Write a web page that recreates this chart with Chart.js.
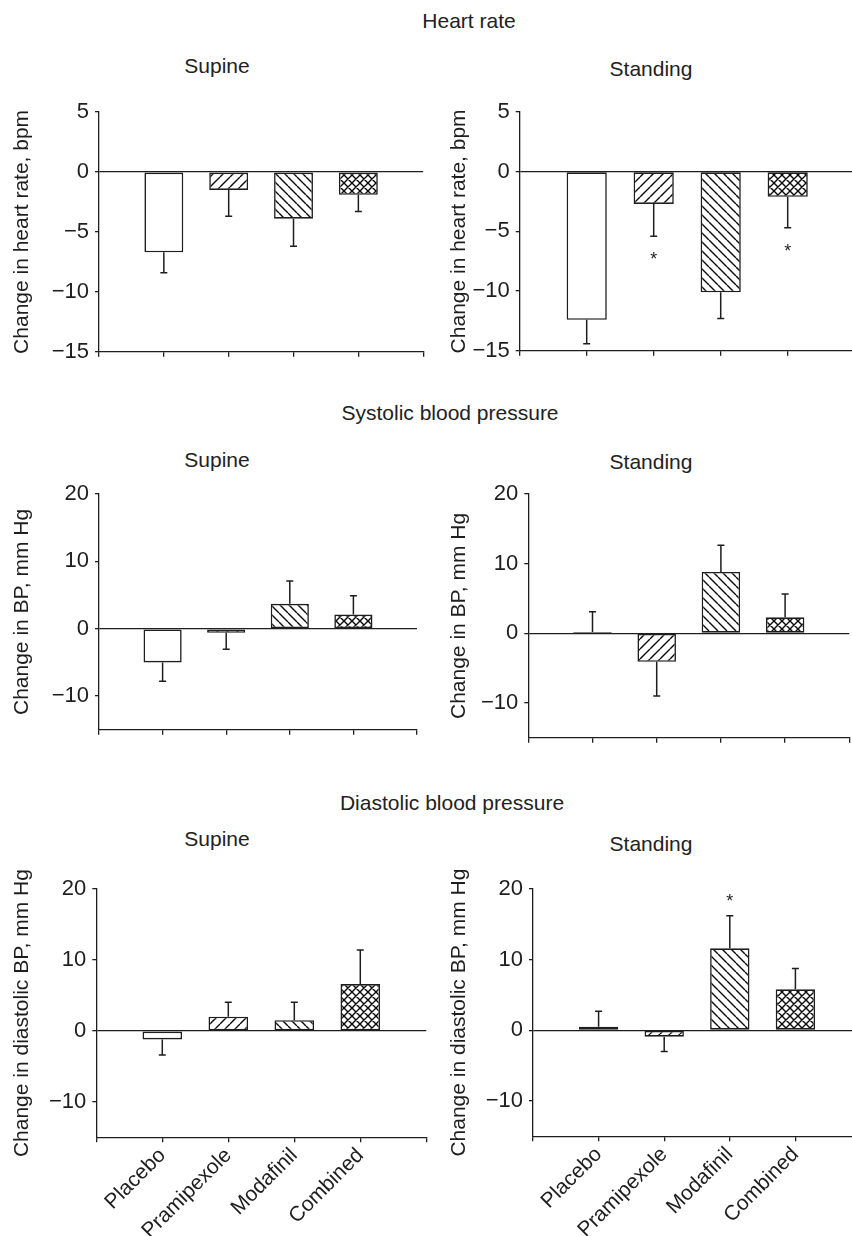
<!DOCTYPE html>
<html>
<head>
<meta charset="utf-8">
<script src="https://cdn.jsdelivr.net/npm/chart.js@4.4.1/dist/chart.umd.min.js"></script>
<style>
html, body { margin: 0; padding: 0; background: #fff; overflow: hidden; }
#fig { position: relative; width: 852px; height: 1236px; overflow: hidden; }
#fig canvas { position: absolute; }
.t { position: absolute; font: 21px 'Liberation Sans', Arial, sans-serif; color: #222;
     white-space: nowrap; line-height: 21px; transform: translateX(-50%); }
</style>
</head>
<body>
<div id="fig">
  <div class="t" style="left:469px;top:10px">Heart rate</div>
  <div class="t" style="left:217px;top:55px">Supine</div>
  <div class="t" style="left:651px;top:58px">Standing</div>

  <div class="t" style="left:450px;top:402px">Systolic blood pressure</div>
  <div class="t" style="left:217px;top:449px">Supine</div>
  <div class="t" style="left:651px;top:451px">Standing</div>

  <div class="t" style="left:452px;top:792px">Diastolic blood pressure</div>
  <div class="t" style="left:217px;top:828px">Supine</div>
  <div class="t" style="left:651px;top:833px">Standing</div>

  <canvas id="hrSup"></canvas>
  <canvas id="hrStand"></canvas>
  <canvas id="sbpSup"></canvas>
  <canvas id="sbpStand"></canvas>
  <canvas id="dbpSup"></canvas>
  <canvas id="dbpStand"></canvas>
</div>
<script>
const categories = ['Placebo', 'Pramipexole', 'Modafinil', 'Combined'];

// mean change, and SEM (drawn away from zero)
const hrSupine = [-6.7, -1.5, -3.9, -1.9];
const hrSupineSem = [1.7, 2.2, 2.3, 1.4];
const hrStanding = [-12.4, -2.7, -10.1, -2.1];
const hrStandingSem = [2.0, 2.7, 2.2, 2.6];
const hrStandingSig = [false, true, false, true];

const sbpSupine = [-5.0, -0.6, 3.7, 2.1];
const sbpSupineSem = [2.8, 2.45, 3.4, 2.8];
const sbpStanding = [0.2, -4.1, 8.8, 2.3];
const sbpStandingSem = [2.9, 4.9, 3.85, 3.35];

const dbpSupine = [-1.2, 2.0, 1.5, 6.6];
const dbpSupineSem = [2.2, 2.05, 2.55, 4.8];
const dbpStanding = [0.5, -0.9, 11.6, 5.8];
const dbpStandingSem = [2.2, 2.1, 4.6, 2.95];
const dbpStandingSig = [false, false, true, false];

const hrTicks = [-15, -10, -5, 0, 5];
const bpTicks = [-10, 0, 10, 20];

const INK = '#1e1e1e';
Chart.defaults.font.family = "'Liberation Sans', Arial, sans-serif";
Chart.defaults.color = INK;

// hatch fills
function hatch(kind, s) {
  const t = document.createElement('canvas');
  t.width = s; t.height = s;
  const c = t.getContext('2d');
  c.fillStyle = '#fff';
  c.fillRect(0, 0, s, s);
  c.strokeStyle = '#0a0a0a';
  c.lineWidth = 1.4;
  c.beginPath();
  for (const k of [-s, 0, s]) {
    if (kind === 'fwd' || kind === 'cross') { c.moveTo(k, s); c.lineTo(k + s, 0); }
    if (kind === 'back' || kind === 'cross') { c.moveTo(k, 0); c.lineTo(k + s, s); }
  }
  c.stroke();
  return c.createPattern(t, 'repeat');
}
const fills = ['#fff', hatch('fwd', 10), hatch('back', 9), hatch('cross', 8)];

const errorBars = {
  id: 'errorBars',
  afterDatasetsDraw(chart) {
    const ds = chart.data.datasets[0];
    const meta = chart.getDatasetMeta(0);
    const y = chart.scales.y;
    const c = chart.ctx;
    c.save();
    c.strokeStyle = INK;
    c.fillStyle = INK;
    c.lineWidth = 1.5;
    meta.data.forEach((bar, i) => {
      const v = ds.data[i].y;
      const dir = v < 0 ? -1 : 1;
      const y0 = y.getPixelForValue(v);
      const y1 = y.getPixelForValue(v + dir * ds.sem[i]);
      c.beginPath();
      c.moveTo(bar.x, y0); c.lineTo(bar.x, y1);
      c.moveTo(bar.x - 3.5, y1); c.lineTo(bar.x + 3.5, y1);
      c.stroke();
      if (ds.sig && ds.sig[i]) {
        c.font = "18px 'Liberation Sans', Arial, sans-serif";
        c.textAlign = 'center';
        c.textBaseline = 'alphabetic';
        c.fillText('*', bar.x, y1 - dir * 19 + 10);
      }
    });
    c.restore();
  }
};

const fmt = v => (v < 0 ? '\u2212' + Math.abs(v) : String(v));

function panel(id, o) {
  const cv = document.getElementById(id);
  const ct = o.areaTop - 25;
  const cb = o.labels ? 1236 : o.areaBottom + 12;
  cv.width = Math.round(o.areaRight + 8 - o.left);
  cv.height = Math.round(cb - ct);
  cv.style.left = o.left + 'px';
  cv.style.top = ct + 'px';
  const xPos = [0, ...categories.map((c, i) => i + 1), categories.length + 1];

  new Chart(cv, {
    type: 'bar',
    data: {
      datasets: [{
        data: o.values.map((v, i) => ({ x: i + 1, y: v })),
        sem: o.sem,
        sig: o.sig,
        backgroundColor: fills,
        borderColor: INK,
        borderWidth: 1.6,
        borderSkipped: false,
        barPercentage: 0.6,
        categoryPercentage: 1
      }]
    },
    options: {
      responsive: false,
      animation: false,
      layout: { padding: { left: 0, top: o.areaTop - ct, right: cv.width - (o.areaRight - o.left), bottom: 0 } },
      plugins: { legend: { display: false }, tooltip: { enabled: false } },
      scales: {
        x: {
          type: 'linear',
          min: 0,
          max: categories.length + 1,
          offset: false,
          afterBuildTicks: s => { s.ticks = xPos.map(v => ({ value: v })); },
          afterFit: s => {
            s.height = cb - o.areaBottom;
            s.paddingLeft = 0;
            s.paddingRight = 0;
          },
          ticks: {
            autoSkip: false,
            maxRotation: 45,
            minRotation: 45,
            padding: 1,
            font: { size: 21 },
            color: INK,
            callback: v => (o.labels ? (categories[v - 1] || '') : '')
          },
          grid: { offset: false, drawOnChartArea: false, color: INK, tickLength: 5, lineWidth: 1.3 },
          border: { color: INK, width: 1.3 }
        },
        y: {
          min: o.min,
          max: o.max,
          afterBuildTicks: s => { s.ticks = o.ticks.map(v => ({ value: v })); },
          afterFit: s => { s.width = o.axisX - o.left; },
          ticks: { font: { size: 22 }, color: INK, padding: 6, callback: v => fmt(v) },
          grid: {
            color: c => (c.tick && c.tick.value === 0 ? INK : 'rgba(0,0,0,0)'),
            tickColor: INK,
            tickLength: 4,
            lineWidth: 1.3
          },
          border: { color: INK, width: 1.3 },
          title: {
            display: true,
            text: o.title,
            font: { size: 21 },
            color: INK,
            padding: { top: o.titleX - o.left - 12.6, bottom: 0 }
          }
        }
      }
    },
    plugins: [errorBars]
  });
}

panel('hrSup', { left: 0, axisX: 99, areaRight: 423.2, areaTop: 112.3, areaBottom: 359, titleX: 22.5,
  min: -15, max: 5, ticks: hrTicks, values: hrSupine, sem: hrSupineSem,
  title: 'Change in heart rate, bpm' });
panel('hrStand', { left: 430, axisX: 519.7, areaRight: 854.7, areaTop: 112.3, areaBottom: 358.7, titleX: 459,
  min: -15, max: 5, ticks: hrTicks, values: hrStanding, sem: hrStandingSem, sig: hrStandingSig,
  title: 'Change in heart rate, bpm' });
panel('sbpSup', { left: 0, axisX: 99, areaRight: 417, areaTop: 493.7, areaBottom: 737, titleX: 22.5,
  min: -15, max: 20, ticks: bpTicks, values: sbpSupine, sem: sbpSupineSem,
  title: 'Change in BP, mm Hg' });
panel('sbpStand', { left: 430, axisX: 528.3, areaRight: 849.3, areaTop: 493.7, areaBottom: 744.3, titleX: 459,
  min: -15, max: 20, ticks: bpTicks, values: sbpStanding, sem: sbpStandingSem,
  title: 'Change in BP, mm Hg' });
panel('dbpSup', { left: 0, axisX: 96.3, areaRight: 426.3, areaTop: 889, areaBottom: 1137.3, titleX: 22.5,
  min: -15, max: 20, ticks: bpTicks, values: dbpSupine, sem: dbpSupineSem, labels: true,
  title: 'Change in diastolic BP, mm Hg' });
panel('dbpStand', { left: 430, axisX: 533, areaRight: 861, areaTop: 889.3, areaBottom: 1136.3, titleX: 459,
  min: -15, max: 20, ticks: bpTicks, values: dbpStanding, sem: dbpStandingSem, sig: dbpStandingSig, labels: true,
  title: 'Change in diastolic BP, mm Hg' });
</script>
</body>
</html>
